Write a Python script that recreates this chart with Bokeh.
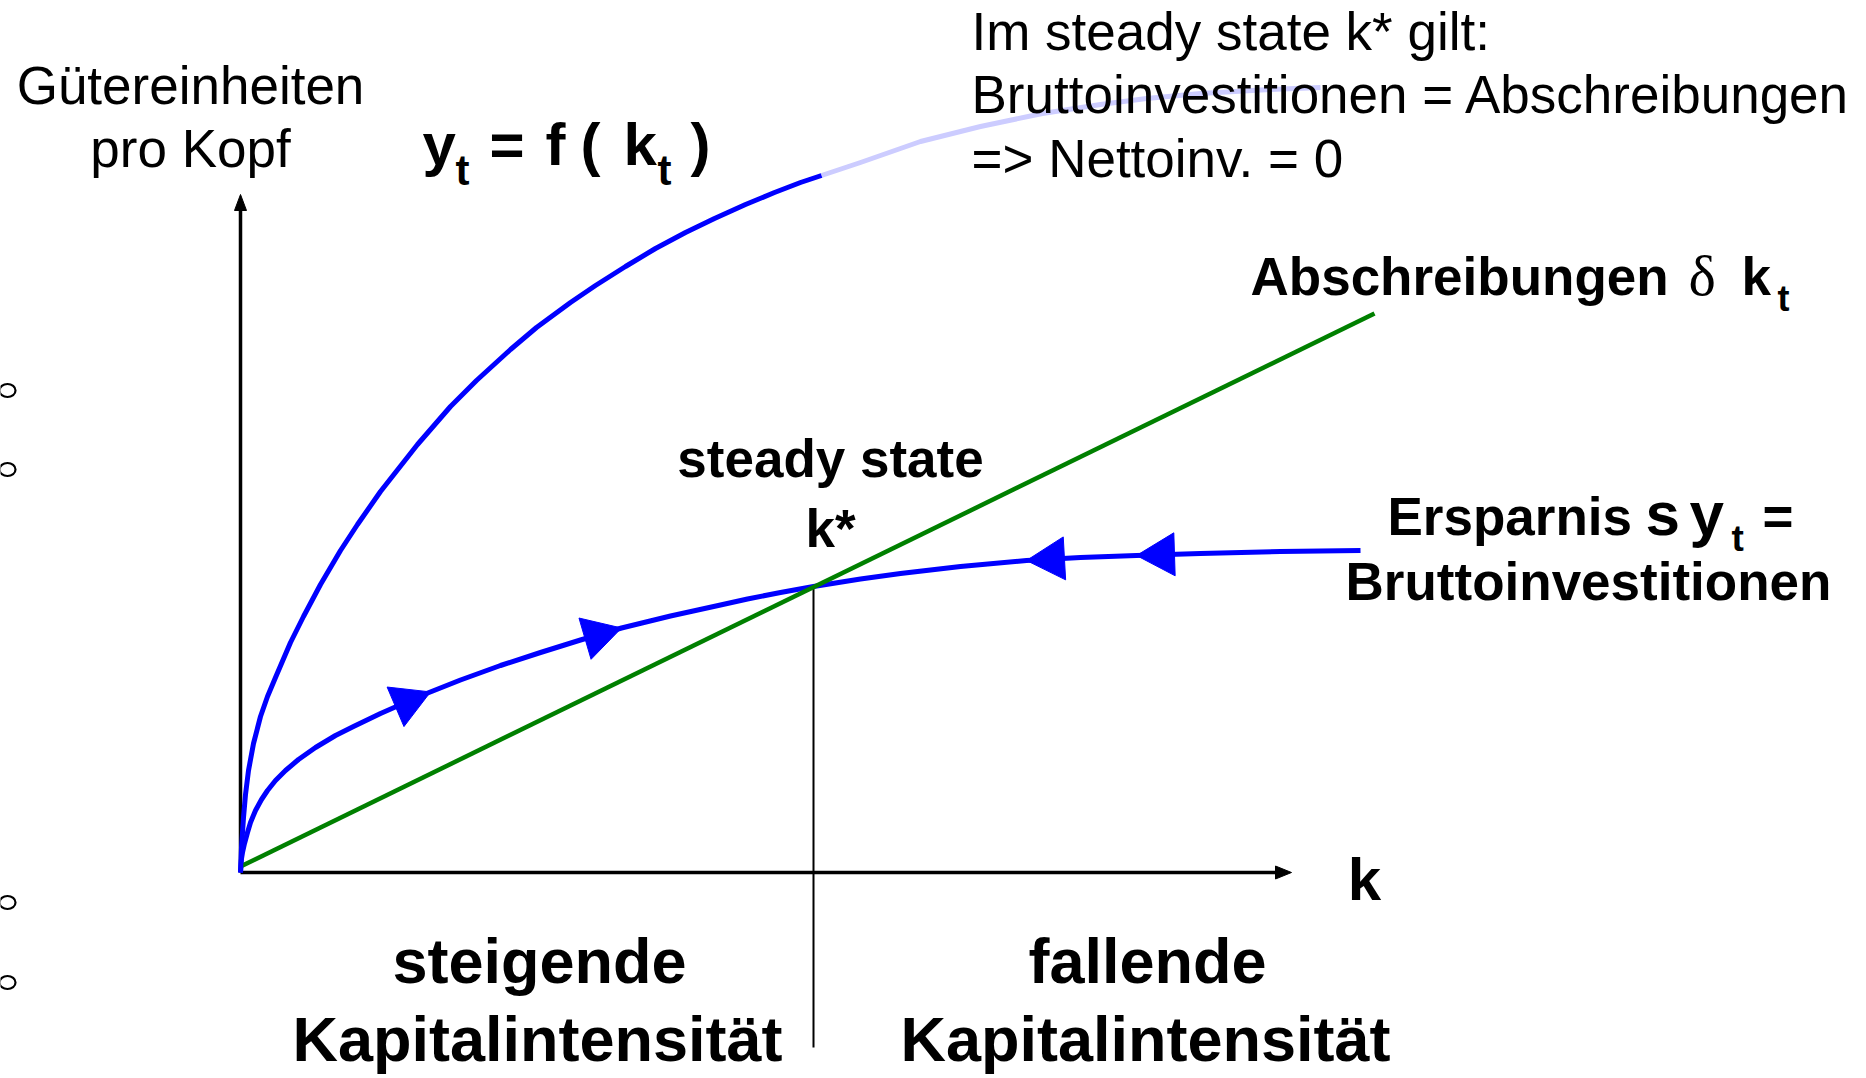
import numpy as np
from bokeh.plotting import figure
from bokeh.models import Range1d
from bokeh.core.properties import value
from bokeh.embed import file_html
from bokeh.resources import INLINE

# ---------------- data (chart units, origin = axes crossing) ----------------
# production function y = f(k), drawn part
prod_k = [0.00, 0.01, 0.02, 0.03, 0.05, 0.08, 0.13, 0.20, 0.27, 0.35, 0.50, 0.63,
          0.80, 1.00, 1.17, 1.40, 1.77, 2.10, 2.36, 2.70, 2.96, 3.30, 3.55, 3.85,
          4.15, 4.45, 4.74, 5.05, 5.34, 5.60, 5.81]
prod_y = [0.00, 0.25, 0.40, 0.55, 0.78, 1.02, 1.29, 1.56, 1.76, 1.95, 2.30, 2.56,
          2.88, 3.22, 3.48, 3.81, 4.28, 4.66, 4.92, 5.23, 5.45, 5.70, 5.87, 6.06,
          6.24, 6.40, 6.54, 6.68, 6.80, 6.90, 6.97]
# faded continuation of f(k)
prod_ext_k = [5.81, 6.20, 6.80, 7.40, 8.02, 8.60, 9.06, 9.60, 10.20, 10.80]
prod_ext_y = [6.97, 7.10, 7.31, 7.46, 7.59, 7.68, 7.74, 7.79, 7.825, 7.85]
# savings s*y = gross investment
sav_k = [0.00, 0.01, 0.02, 0.04, 0.07, 0.10, 0.15, 0.21, 0.27, 0.35, 0.45, 0.58,
         0.75, 0.95, 1.13, 1.40, 1.65, 1.86, 2.20, 2.60, 3.00, 3.40, 3.81, 4.30,
         4.80, 5.07, 5.40, 5.73, 6.20, 6.60, 7.20, 7.86, 8.40, 8.96, 9.60, 10.40,
         11.20]
sav_y = [0.00, 0.14, 0.20, 0.29, 0.40, 0.50, 0.62, 0.73, 0.82, 0.92, 1.02, 1.13,
         1.25, 1.37, 1.46, 1.59, 1.70, 1.79, 1.925, 2.07, 2.20, 2.325, 2.445, 2.565,
         2.675, 2.735, 2.80, 2.86, 2.935, 2.99, 3.06, 3.12, 3.15, 3.17, 3.19, 3.21,
         3.22]
# depreciation delta*k
dep_k = [0.00, 11.34]
dep_y = [0.06, 5.59]
# steady state
k_star = 5.73
y_star = 2.86
# direction arrows on the savings curve (+1 = towards larger k)
arrow_k = [1.90, 3.81, 7.86, 8.96]
arrow_dir = [1, 1, -1, -1]
# axis extents
k_axis_max = 10.51
y_axis_max = 6.78

# ---------------- layout helpers (page pixels -> chart units) ----------------
def X(px):
    return (px - 240) / 100.0

def Y(py):
    return (872 - py) / 100.0

W, H = 1866, 1078
p = figure(width=W, height=H, output_backend="svg", toolbar_location=None,
           x_range=Range1d(-2.40, -2.40 + W / 100.0),
           y_range=Range1d(8.72 - H / 100.0, 8.72),
           min_border=0, background_fill_color="white", border_fill_color="white")
p.axis.visible = False
p.grid.visible = False
p.outline_line_color = None

BLUE = "#0000ff"
GREEN = "#008000"
LIGHT = "#ccccff"

# axes
p.line([0, 0], [0, y_axis_max - 0.10], line_color="black", line_width=3.5)
p.line([0, k_axis_max - 0.10], [0, 0], line_color="black", line_width=3.5)

def tri(tip_x, tip_y, ux, uy, h, w, color):
    n = np.hypot(ux, uy)
    ux, uy = ux / n, uy / n
    bx, by = tip_x - h * ux, tip_y - h * uy
    nx, ny = -uy, ux
    xs = [tip_x, bx + w / 2 * nx, bx - w / 2 * nx]
    ys = [tip_y, by + w / 2 * ny, by - w / 2 * ny]
    p.patch(xs, ys, fill_color=color, line_color=color, line_width=1)

tri(0, y_axis_max, 0, 1, 0.16, 0.12, "black")
tri(k_axis_max, 0, 1, 0, 0.16, 0.13, "black")

# steady-state vertical line
p.line([k_star, k_star], [y_star, Y(1047)], line_color="black", line_width=2)

# curves
p.line(prod_ext_k, prod_ext_y, line_color=LIGHT, line_width=5, line_join="round")
p.line(sav_k, sav_y, line_color=BLUE, line_width=5, line_join="round")
p.line(dep_k, dep_y, line_color=GREEN, line_width=4.5, line_cap="butt")
p.line(prod_k, prod_y, line_color=BLUE, line_width=5, line_join="round")

# arrows along the savings curve
sk = np.array(sav_k)
sy = np.array(sav_y)
for ak, d in zip(arrow_k, arrow_dir):
    ty = float(np.interp(ak, sk, sy))
    pk = ak - 0.3 * d
    py_ = float(np.interp(pk, sk, sy))
    tri(ak, ty, ak - pk, ty - py_, 0.38, 0.43, BLUE)

# bullet circles at the left edge
p.ellipse(x=[X(7)] * 4, y=[Y(390), Y(469), Y(902), Y(982)], width=16, height=13,
          width_units="screen", height_units="screen", fill_color=None,
          line_color="black", line_width=2.2)

FONT = "Liberation Sans"

def txt(px, py, s, size, bold=True, align="left", font=FONT):
    # py is the wanted baseline; renderer places alphabetic text ~0.35 em low
    p.text(x=[X(px)], y=[Y(py - 0.35 * size)], text=[s], text_font=value(font),
           text_font_size=f"{size}px", text_font_style="bold" if bold else "normal",
           text_align=align, text_baseline="alphabetic", text_color="black")

# y axis label
txt(190, 104, "Gütereinheiten", 53, bold=False, align="center")
txt(190, 167, "pro Kopf", 53, bold=False, align="center")

# y_t = f ( k_t )
txt(422, 165, "y", 60)
txt(455, 185, "t", 42)
txt(489, 165, "=", 60)
txt(545, 165, "f", 60)
txt(580, 165, "(", 60)
txt(623, 165, "k", 60)
txt(657, 185, "t", 42)
txt(690, 165, ")", 60)

# note top right
txt(971, 50, "Im steady state k* gilt:", 53, bold=False)
txt(971, 113, "Bruttoinvestitionen = Abschreibungen", 53, bold=False)
txt(971, 177, "=> Nettoinv. = 0", 53, bold=False)

# depreciation label
txt(1250, 295, "Abschreibungen", 53)
txt(1688, 295, "δ", 58, bold=False, font="Liberation Serif")
txt(1741, 295, "k", 53)
txt(1777, 311, "t", 36)

# steady state label
txt(830, 477, "steady state", 53, align="center")
txt(830, 547, "k*", 53, align="center")

# savings label
txt(1387, 535, "Ersparnis", 53)
txt(1645, 535, "s", 62)
txt(1689, 535, "y", 62)
txt(1731, 551, "t", 37)
txt(1762, 535, "=", 53)
txt(1588, 600, "Bruttoinvestitionen", 53, align="center")

# k axis label
txt(1364, 900, "k", 60, align="center")

# bottom labels
txt(539, 983, "steigende", 63, align="center")
txt(537, 1061, "Kapitalintensität", 63, align="center")
txt(1147, 983, "fallende", 63, align="center")
txt(1145, 1061, "Kapitalintensität", 63, align="center")

open("out.html", "w").write(file_html(p, INLINE))
